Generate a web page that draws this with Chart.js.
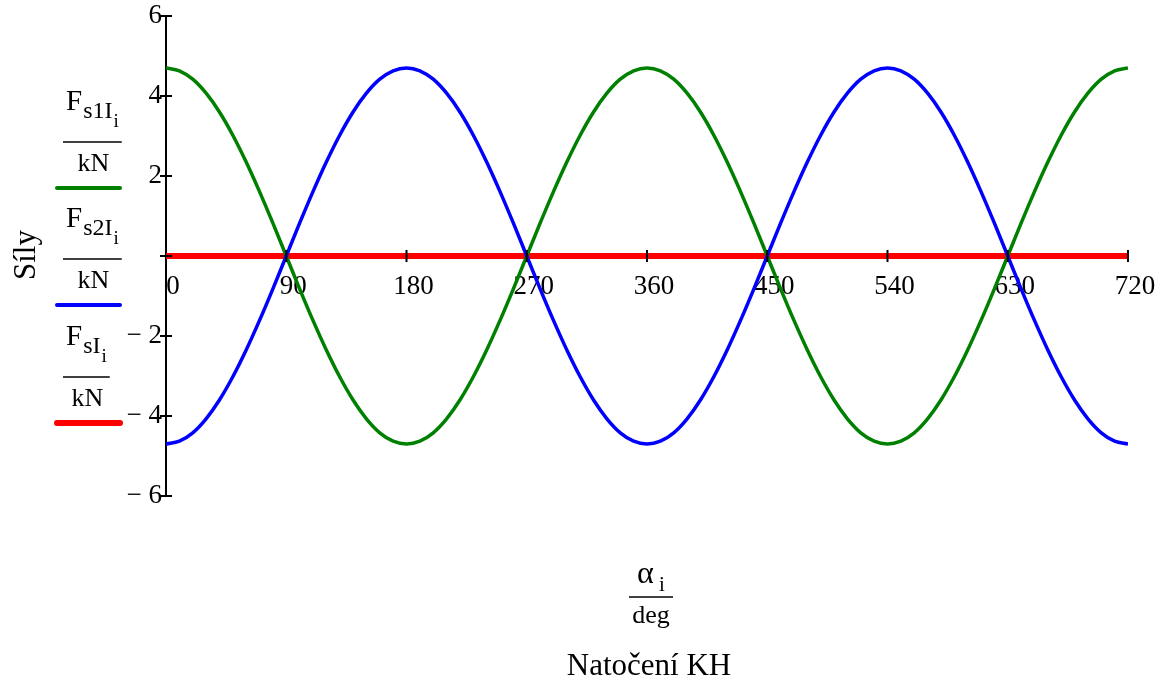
<!DOCTYPE html>
<html>
<head>
<meta charset="utf-8">
<script src="https://cdn.jsdelivr.net/npm/chart.js@4"></script>
<style>
  body { margin: 0; background: #fff; }
  #wrap { width: 1160px; height: 680px; position: relative; }
</style>
</head>
<body>
<div id="wrap"><canvas id="charts"></canvas></div>
<script>
// natoceni KH in degrees
const angles = [0, 10, 20, 30, 40, 50, 60, 70, 80, 90, 100, 110, 120, 130, 140, 150, 160, 170,
  180, 190, 200, 210, 220, 230, 240, 250, 260, 270, 280, 290, 300, 310, 320, 330, 340, 350,
  360, 370, 380, 390, 400, 410, 420, 430, 440, 450, 460, 470, 480, 490, 500, 510, 520, 530,
  540, 550, 560, 570, 580, 590, 600, 610, 620, 630, 640, 650, 660, 670, 680, 690, 700, 710, 720];

// Fs1I / kN  (green)
const fs1 = [4.70, 4.63, 4.42, 4.07, 3.60, 3.02, 2.35, 1.61, 0.82, 0, -0.82, -1.61, -2.35, -3.02, -3.60, -4.07, -4.42, -4.63,
  -4.70, -4.63, -4.42, -4.07, -3.60, -3.02, -2.35, -1.61, -0.82, 0, 0.82, 1.61, 2.35, 3.02, 3.60, 4.07, 4.42, 4.63,
  4.70, 4.63, 4.42, 4.07, 3.60, 3.02, 2.35, 1.61, 0.82, 0, -0.82, -1.61, -2.35, -3.02, -3.60, -4.07, -4.42, -4.63,
  -4.70, -4.63, -4.42, -4.07, -3.60, -3.02, -2.35, -1.61, -0.82, 0, 0.82, 1.61, 2.35, 3.02, 3.60, 4.07, 4.42, 4.63, 4.70];

// Fs2I / kN  (blue)
const fs2 = [-4.70, -4.63, -4.42, -4.07, -3.60, -3.02, -2.35, -1.61, -0.82, 0, 0.82, 1.61, 2.35, 3.02, 3.60, 4.07, 4.42, 4.63,
  4.70, 4.63, 4.42, 4.07, 3.60, 3.02, 2.35, 1.61, 0.82, 0, -0.82, -1.61, -2.35, -3.02, -3.60, -4.07, -4.42, -4.63,
  -4.70, -4.63, -4.42, -4.07, -3.60, -3.02, -2.35, -1.61, -0.82, 0, 0.82, 1.61, 2.35, 3.02, 3.60, 4.07, 4.42, 4.63,
  4.70, 4.63, 4.42, 4.07, 3.60, 3.02, 2.35, 1.61, 0.82, 0, -0.82, -1.61, -2.35, -3.02, -3.60, -4.07, -4.42, -4.63, -4.70];

// FsI / kN  (red)
const fs = [0, 0, 0, 0, 0, 0, 0, 0, 0, 0, 0, 0, 0, 0, 0, 0, 0, 0,
  0, 0, 0, 0, 0, 0, 0, 0, 0, 0, 0, 0, 0, 0, 0, 0, 0, 0,
  0, 0, 0, 0, 0, 0, 0, 0, 0, 0, 0, 0, 0, 0, 0, 0, 0, 0,
  0, 0, 0, 0, 0, 0, 0, 0, 0, 0, 0, 0, 0, 0, 0, 0, 0, 0, 0];

// legend subscripts and colours
const seriesSubs = ['s1I', 's2I', 'sI'];
const seriesColors = ['#008000', '#0000ff', '#ff0000'];
const xTicks = [0, 90, 180, 270, 360, 450, 540, 630, 720];
const yTicks = [-6, -4, -2, 0, 2, 4, 6];

const serif = '"Liberation Serif", "Times New Roman", serif';

function toPoints(vals) {
  return angles.map((a, i) => ({ x: a, y: vals[i] }));
}

// tick marks crossing the axes (drawn on top like the original)
const crossTicks = {
  id: 'crossTicks',
  afterDatasetsDraw(chart) {
    const ctx = chart.ctx;
    const xs = chart.scales.x, ys = chart.scales.y;
    const y0 = ys.getPixelForValue(0);
    const x0 = xs.getPixelForValue(0);
    ctx.save();
    ctx.strokeStyle = '#000';
    ctx.lineWidth = 2;
    ctx.beginPath();
    xTicks.forEach(v => {
      if (v === 0) return;
      const px = xs.getPixelForValue(v);
      ctx.moveTo(px, y0 - 6);
      ctx.lineTo(px, y0 + 6);
    });
    yTicks.forEach(v => {
      const py = ys.getPixelForValue(v);
      ctx.moveTo(x0 - 6, py);
      ctx.lineTo(x0 + 6, py);
    });
    ctx.stroke();
    ctx.restore();
  }
};

// Mathcad style legend and axis titles
const titles = {
  id: 'titles',
  afterDraw(chart) {
    const ctx = chart.ctx;
    ctx.save();
    ctx.fillStyle = '#000';
    ctx.textBaseline = 'alphabetic';

    const bases = [110, 227, 345];
    seriesSubs.forEach((sub, i) => {
      const b = bases[i];
      let x = 66;
      ctx.textAlign = 'left';
      ctx.font = '29px ' + serif;
      ctx.fillText('F', x, b);
      x += ctx.measureText('F').width + 1;
      ctx.font = '24px ' + serif;
      ctx.fillText(sub, x, b + 8);
      x += ctx.measureText(sub).width;
      ctx.font = '19px ' + serif;
      ctx.fillText('i', x + 1, b + 17);
      x += ctx.measureText('i').width + 4;
      // fraction bar
      ctx.strokeStyle = '#000';
      ctx.lineWidth = 1.5;
      ctx.lineCap = 'butt';
      ctx.beginPath();
      ctx.moveTo(63, b + 32);
      ctx.lineTo(x, b + 32);
      ctx.stroke();
      ctx.font = '26px ' + serif;
      ctx.textAlign = 'center';
      ctx.fillText('kN', (63 + x) / 2 + 1, b + 61);
      // sample line
      ctx.strokeStyle = seriesColors[i];
      ctx.lineWidth = i === 2 ? 6 : 4;
      ctx.lineCap = 'round';
      ctx.beginPath();
      ctx.moveTo(57, b + 78);
      ctx.lineTo(120, b + 78);
      ctx.stroke();
    });

    // y title
    ctx.save();
    ctx.translate(27, 255);
    ctx.rotate(-Math.PI / 2);
    ctx.textAlign = 'center';
    ctx.textBaseline = 'middle';
    ctx.font = '31px ' + serif;
    ctx.fillText('Síly', 0, 0);
    ctx.restore();

    // x title
    ctx.textAlign = 'left';
    ctx.font = '32px ' + serif;
    ctx.fillText('α', 637, 583);
    ctx.font = '21px ' + serif;
    ctx.fillText('i', 659, 591);
    ctx.strokeStyle = '#000';
    ctx.lineWidth = 1.5;
    ctx.lineCap = 'butt';
    ctx.beginPath();
    ctx.moveTo(629, 597);
    ctx.lineTo(673, 597);
    ctx.stroke();
    ctx.textAlign = 'center';
    ctx.font = '26px ' + serif;
    ctx.fillText('deg', 651, 623);
    ctx.font = '31px ' + serif;
    ctx.fillText('Natočení KH', 649, 675);
    ctx.restore();
  }
};

const createChart = function () {
  const chartCanvas = document.getElementById('charts');
  new Chart(chartCanvas, {
    type: 'line',
    data: {
      datasets: [
        { label: 'Fs2I/kN', data: toPoints(fs2), borderColor: seriesColors[1], borderWidth: 3.5, order: 0 },
        { label: 'Fs1I/kN', data: toPoints(fs1), borderColor: seriesColors[0], borderWidth: 3.5, order: 1 },
        { label: 'FsI/kN', data: toPoints(fs), borderColor: seriesColors[2], borderWidth: 6, order: 2 }
      ]
    },
    options: {
      responsive: true,
      maintainAspectRatio: false,
      animation: false,
      layout: { padding: { left: 96, top: 16, right: 32, bottom: 184 } },
      elements: {
        point: { radius: 0 },
        line: { cubicInterpolationMode: 'monotone', fill: false }
      },
      plugins: { legend: { display: false }, tooltip: { enabled: false } },
      scales: {
        x: {
          type: 'linear',
          min: 0,
          max: 720,
          position: { y: 0 },
          afterFit: s => { s.height = 40; s.paddingLeft = 0; s.paddingRight = 0; },
          afterBuildTicks: s => { s.ticks = xTicks.map(v => ({ value: v })); },
          border: { color: '#000', width: 2 },
          grid: { drawOnChartArea: false, drawTicks: false },
          ticks: {
            color: '#000',
            font: { family: serif, size: 27 },
            labelOffset: 7,
            padding: 15,
            maxRotation: 0,
            autoSkip: false
          }
        },
        y: {
          min: -6,
          max: 6,
          afterFit: s => { s.width = 70; s.paddingTop = 0; s.paddingBottom = 0; },
          afterBuildTicks: s => { s.ticks = yTicks.map(v => ({ value: v })); },
          border: { color: '#000', width: 2 },
          grid: { drawOnChartArea: false, drawTicks: false },
          ticks: {
            color: '#000',
            font: { family: serif, size: 27 },
            padding: 4,
            callback: v => v === 0 ? '' : (v < 0 ? '\u2212 ' + Math.abs(v) : String(v))
          }
        }
      }
    },
    plugins: [crossTicks, titles]
  });
};

createChart();
</script>
</body>
</html>
